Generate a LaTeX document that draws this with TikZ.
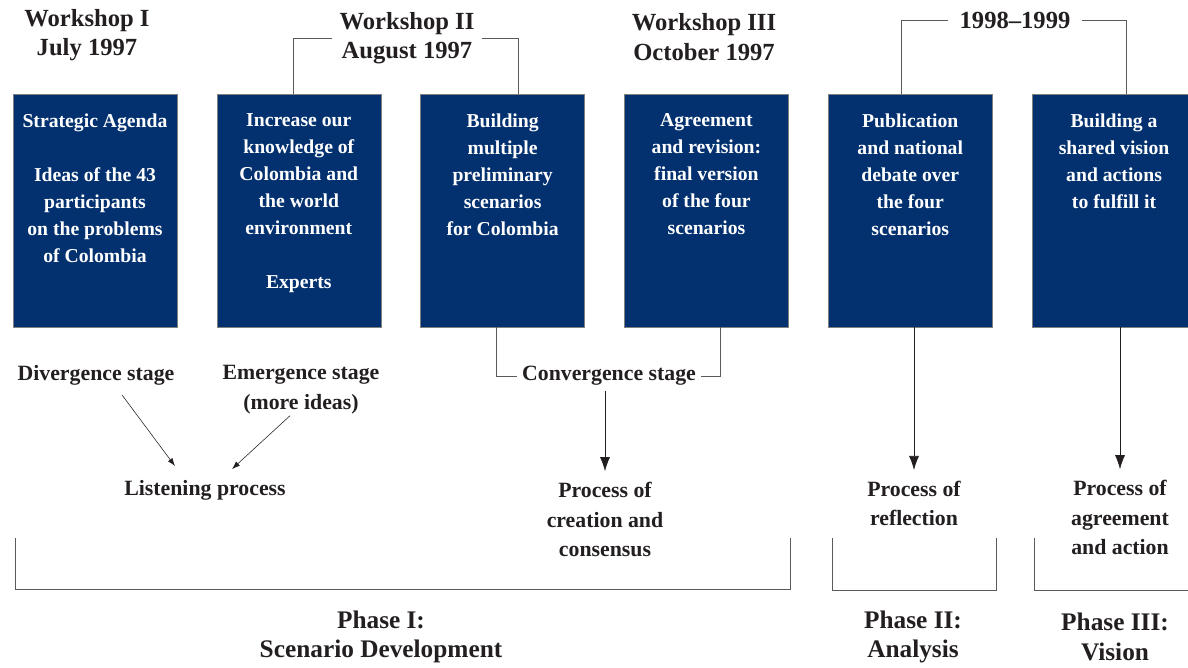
\documentclass[tikz,border=0pt]{standalone}
\usepackage{fontspec}
\setmainfont{Liberation Serif}
\usepackage{xcolor}
\usepackage{tikz}
\usetikzlibrary{arrows.meta,positioning}

\definecolor{navy}{RGB}{3,49,111}
\definecolor{ink}{RGB}{35,31,32}
\definecolor{linegray}{RGB}{90,90,90}

\begin{document}
\begin{tikzpicture}[
    x=0.025cm, y=-0.025cm,
    node distance=0.98cm,
    box/.style={draw=gray, fill=navy, minimum width=4.1cm, minimum height=5.825cm, inner sep=0pt},
    boxtext/.style={text=white, font=\bfseries\fontsize{14}{19.2}\selectfont, align=center, inner sep=0pt},
    head/.style={text=ink, font=\bfseries\fontsize{17.5}{21}\selectfont, align=center, inner sep=5pt},
    stage/.style={text=ink, font=\bfseries\fontsize{15.5}{21}\selectfont, align=center},
    phase/.style={text=ink, font=\bfseries\fontsize{18}{21}\selectfont, align=center},
    bracket/.style={draw=linegray, line width=0.6pt},
    arrow/.style={-{Latex[length=3.5mm,width=2.5mm]}, draw=ink, line width=0.5pt, shorten >=0.15cm},
    thinarrow/.style={-{Latex[length=2mm,width=1.4mm]}, draw=ink, line width=0.4pt}
]
\useasboundingbox (0,0) rectangle (1188,667);

% workshop boxes
\node[box] (b1) at (95,210.5) {};
\node[box, right=of b1] (b2) {};
\node[box, right=of b2] (b3) {};
\node[box, right=of b3] (b4) {};
\node[box, right=of b4] (b5) {};
\node[box, right=of b5] (b6) {};

\node[boxtext, below=0.5cm of b1.north] (t1) {Strategic Agenda\\[19.2pt]Ideas of the 43\\participants\\on the problems\\of Colombia};
\node[boxtext, below=0.5cm of b2.north] (t2) {Increase our\\knowledge of\\Colombia and\\the world\\environment\\[19.2pt]Experts};
\node[boxtext, below=0.5cm of b3.north] (t3) {Building\\multiple\\preliminary\\scenarios\\for Colombia};
\node[boxtext, below=0.5cm of b4.north] (t4) {Agreement\\and revision:\\final version\\of the four\\scenarios};
\node[boxtext, below=0.5cm of b5.north] (t5) {Publication\\and national\\debate over\\the four\\scenarios};
\node[boxtext, below=0.5cm of b6.north] (t6) {Building a\\shared vision\\and actions\\to fulfill it};

% headings
\node[head] (ws1) at (87,35) {Workshop I\\July 1997};
\node[head] (ws2) at (407,38) {Workshop II\\August 1997};
\node[head] (ws3) at (704,37) {Workshop III\\October 1997};
\node[head, inner sep=8pt] (yrs) at (1015,20) {1998--1999};

\draw[bracket] ([xshift=-0.125cm]b2.north) |- (ws2.west);
\draw[bracket] (ws2.east) -| ([xshift=0.4cm]b3.north);
\draw[bracket] ([xshift=-0.225cm]b5.north) |- (yrs.west);
\draw[bracket] (yrs.east) -| ([xshift=0.3cm]b6.north);

% stages and processes
\node[stage] (div) at (96,375) {Divergence stage};
\node[stage] (em) at (301,389.5) {Emergence stage\\(more ideas)};
\node[stage] (conv) at (609,376) {Convergence stage};
\node[stage] (lis) at (205,490) {Listening process};
\node[stage] (proc) at (605,519.5) {Process of\\creation and\\consensus};
\node[stage] (refl) at (914,503.5) {Process of\\reflection};
\node[stage] (agr) at (1120,517.5) {Process of\\agreement\\and action};

\draw[bracket] ([xshift=-0.15cm]b3.south) |- (conv.west);
\draw[bracket] (conv.east) -| ([xshift=0.35cm]b4.south);

\draw[thinarrow] ([xshift=0.65cm,yshift=-0.125cm]div.south) -- ([xshift=-0.75cm,yshift=0.225cm]lis.north);
\draw[thinarrow] ([xshift=-0.275cm,yshift=0.075cm]em.south) -- ([xshift=0.675cm,yshift=0.15cm]lis.north);
\draw[arrow] (conv.south -| proc.north) -- (proc.north);
\draw[arrow] (b5.south -| refl.north) -- (refl.north);
\draw[arrow] (b6.south -| agr.north) -- (agr.north);

% phases
\draw[bracket] (15,538) |- (790,589) -- (790,538);
\draw[bracket] (832,538) |- (996,590) -- (996,538);
\draw[bracket] (1034,538) |- (1200,590);

\node[phase] (ph1) at (381,637) {Phase I:\\Scenario Development};
\node[phase] (ph2) at (913,637) {Phase II:\\Analysis};
\node[phase] (ph3) at (1115,637) {Phase III:\\Vision};
\end{tikzpicture}
\end{document}
